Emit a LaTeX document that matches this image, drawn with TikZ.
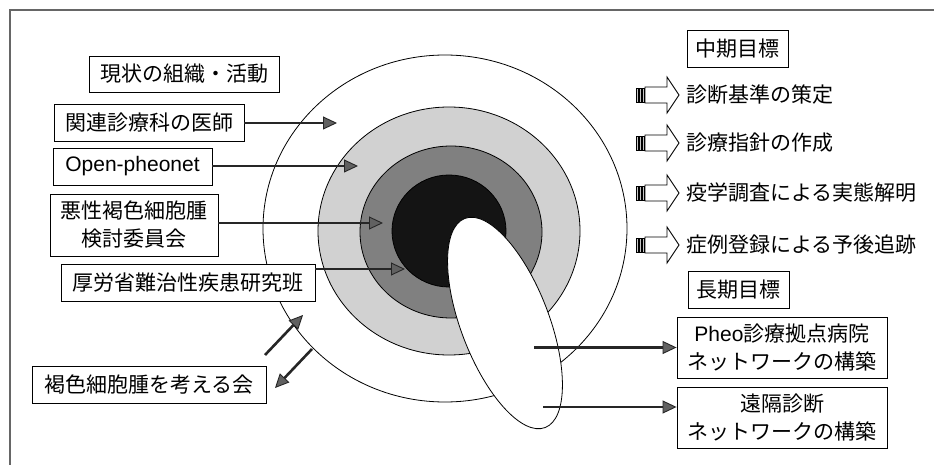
\documentclass[tikz,border=0pt]{standalone}
\usepackage{fontspec}
\setmainfont{Noto Sans CJK JP}
\newfontfamily\lat{Liberation Sans}
\usetikzlibrary{arrows.meta}
\definecolor{ringlight}{gray}{0.82}
\definecolor{ringdark}{gray}{0.50}
\definecolor{ringcore}{gray}{0.08}
\definecolor{framegray}{gray}{0.40}
\begin{document}
\begin{tikzpicture}[x=1pt,y=-1pt,
  box/.style={draw=black, line width=0.9pt, fill=white, inner sep=0pt, align=center,
    font=\fontsize{21}{28}\selectfont},
  txt/.style={inner sep=0pt, anchor=west, font=\fontsize{21}{28}\selectfont},
  ring/.style={draw=black, line width=0.8pt},
  arr/.style={draw=black!85, line width=2.6pt,
    -{Triangle[length=14pt,width=13pt,fill=black!62,line width=0.9pt]}},
  blockarr/.pic={
    \foreach \i in {0,3,6} \draw[line width=0.5pt, fill=gray!45] (\i,-7) rectangle (\i+2,7);
    \draw[line width=0.9pt, fill=white] (9,-8) -- (31,-8) -- (31,-18) -- (43,0) -- (31,18) -- (31,8) -- (9,8) -- cycle;
  }]
\useasboundingbox (0,0) rectangle (934,465);
% frame (top and left edges visible)
\draw[framegray, line width=1.3pt] (10,465) -- (10,10) -- (934,10);

% concentric rings
\draw[ring, fill=white] (445,228.5) ellipse [x radius=182, y radius=173.5];
\draw[ring, fill=ringlight] (449,231) ellipse [x radius=131, y radius=124];
\draw[ring, fill=ringdark] (451,232) ellipse [x radius=91, y radius=86];
\draw[ring, fill=ringcore] (449,231) ellipse [x radius=57, y radius=56];

% left boxes
\node[box, minimum width=190pt, minimum height=36pt] (status) at (184,74) {現状の組織・活動};
\node[box, minimum width=190pt, minimum height=37pt] (b1) at (149,122.5) {関連診療科の医師};
\node[box, minimum width=159pt, minimum height=37pt] (b2) at (132.5,166.5) {{\lat Open-pheonet}};
\node[box, minimum width=168pt, minimum height=62pt] (b3) at (134,225) {悪性褐色細胞腫\\検討委員会};
\node[box, minimum width=254pt, minimum height=37pt] (b4) at (188,282.5) {厚労省難治性疾患研究班};
\node[box, minimum width=234pt, minimum height=37pt] (b5) at (149,384.5) {褐色細胞腫を考える会};

% arrows into rings
\coordinate (t1) at (337,123);
\coordinate (t2) at (358,166);
\coordinate (t3) at (383,223);
\coordinate (t4) at (405,269);
\draw[arr] (b1.east |- t1) -- (t1);
\draw[arr] (b2.east |- t2) -- (t2);
\draw[arr] (b3.east |- t3) -- (t3);
\draw[arr] (b4.east |- t4) -- (t4);

% two-way arrows for b5
\coordinate (u1) at (265,355);
\coordinate (u2) at (303,315);
\coordinate (d1) at (312,349);
\coordinate (d2) at (275,388);
\draw[arr] (u1) -- (u2);
\draw[arr] (d1) -- (d2);

% white ellipse on top
\draw[ring, fill=white, rotate around={111:(505,323)}] (505,323) ellipse [x radius=112, y radius=44];

% right side: mid-term goals
\node[box, minimum width=101pt, minimum height=37pt] (mid) at (737.5,48.5) {中期目標};
\pic at (636,95) {blockarr};
\pic at (636,143) {blockarr};
\pic at (636,193) {blockarr};
\pic at (636,245) {blockarr};
\node[txt] (m1) at (686,95) {診断基準の策定};
\node[txt] (m2) at (686,143) {診療指針の作成};
\node[txt] (m3) at (686,193) {疫学調査による実態解明};
\node[txt] (m4) at (686,245) {症例登録による予後追跡};

% long-term goals
\node[box, minimum width=101pt, minimum height=37pt] (long) at (738.5,289.5) {長期目標};
\node[box, minimum width=210pt, minimum height=61pt] (g1) at (782,347.5) {{\lat Pheo}診療拠点病院\\ネットワークの構築};
\node[box, minimum width=210pt, minimum height=61pt] (g2) at (782,417.5) {遠隔診断\\ネットワークの構築};

\coordinate (s1) at (534,347.5);
\coordinate (s2) at (543,407);
\draw[arr] (s1) -- (g1.west);
\draw[arr] (s2) -- (g2.west |- s2);
\end{tikzpicture}
\end{document}
